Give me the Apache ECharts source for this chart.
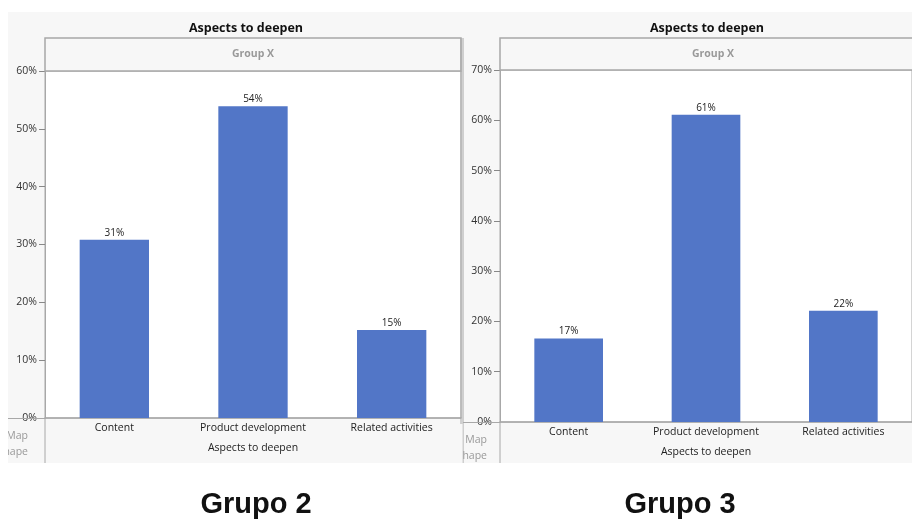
<!DOCTYPE html>
<html>
<head>
<meta charset="utf-8">
<script src="https://cdn.jsdelivr.net/npm/echarts@6/dist/echarts.min.js"></script>
<style>
html, body { margin: 0; padding: 0; background: #fff; }
#chart { width: 912px; height: 521px; }
</style>
</head>
<body>
<div id="chart"></div>
<script>
// data
var categories = ['Content', 'Product development', 'Related activities'];
var grupo2 = [30.8, 53.9, 15.2];
var grupo3 = [16.6, 61.1, 22.1];
var ticks2 = [0, 10, 20, 30, 40, 50, 60];
var ticks3 = [0, 10, 20, 30, 40, 50, 60, 70];
var panelTitles = ['Grupo 2', 'Grupo 3'];

var myChart = echarts.init(document.getElementById('chart'));
var font = 'Open Sans';
var lineColor = '#a8a8a8';
var bg = '#f7f7f7';

function yAxisFor(idx, ticks){
	return {
		type: 'value',
		gridIndex: idx,
		min: ticks[0],
		max: ticks[ticks.length - 1],
		interval: 10,
		axisLine: { show: true, lineStyle: { color: lineColor } },
		axisTick: { show: true, length: 6, lineStyle: { color: '#888' } },
		axisLabel: { formatter: '{value}%', color: '#333', fontSize: 10.5, fontFamily: font, margin: 8 },
		splitLine: { show: false }
	};
}

function xAxisFor(idx){
	return {
		type: 'category',
		gridIndex: idx,
		data: categories,
		name: 'Aspects to deepen',
		nameLocation: 'middle',
		nameGap: 25,
		nameTextStyle: { color: '#222', fontSize: 10.5, fontFamily: font },
		axisLine: { show: true, lineStyle: { color: lineColor, width: 1.5 } },
		axisTick: { show: false },
		axisLabel: { color: '#222', fontSize: 10.5, fontFamily: font, margin: 5, interval: 0 }
	};
}

function seriesFor(idx, data){
	return {
		type: 'bar',
		xAxisIndex: idx,
		yAxisIndex: idx,
		data: data,
		barWidth: '50%',
		itemStyle: { color: '#5276c7' },
		label: {
			show: true,
			position: 'top',
			distance: 2,
			color: '#222',
			fontSize: 10,
			fontFamily: font,
			formatter: function(p){ return Math.round(p.value) + '%'; }
		}
	};
}

var option = {
	animation: false,
	backgroundColor: '#fff',
	title: [
		{ text: 'Aspects to deepen', left: 241, top: 17, textAlign: 'center',
		  textStyle: { fontSize: 12.5, fontWeight: 'bold', color: '#111', fontFamily: font } },
		{ text: 'Aspects to deepen', left: 702, top: 17, textAlign: 'center',
		  textStyle: { fontSize: 12.5, fontWeight: 'bold', color: '#111', fontFamily: font } },
		{ text: panelTitles[0], left: 251, top: 485, textAlign: 'center',
		  textStyle: { fontSize: 29, fontWeight: 'bold', color: '#111', fontFamily: 'Liberation Sans' } },
		{ text: panelTitles[1], left: 675, top: 485, textAlign: 'center',
		  textStyle: { fontSize: 29, fontWeight: 'bold', color: '#111', fontFamily: 'Liberation Sans' } }
	],
	grid: [
		{ left: 45, top: 71, width: 416, height: 347, show: true, backgroundColor: '#fff', borderColor: lineColor, borderWidth: 1 },
		{ left: 500, top: 70, width: 428, height: 352, show: true, backgroundColor: '#fff', borderColor: lineColor, borderWidth: 1 }
	],
	xAxis: [xAxisFor(0), xAxisFor(1)],
	yAxis: [yAxisFor(0, ticks2), yAxisFor(1, ticks3)],
	series: [seriesFor(0, grupo2), seriesFor(1, grupo3)],
	graphic: [
		{ type: 'rect', z: -10, shape: { x: 8, y: 12, width: 904, height: 451 }, style: { fill: bg } },
		// Group X headers
		{ type: 'rect', z: 1, shape: { x: 45, y: 38, width: 416, height: 33 }, style: { fill: bg, stroke: lineColor, lineWidth: 1.5 } },
		{ type: 'text', z: 2, x: 253, y: 54, style: { text: 'Group X', fill: '#999', font: 'bold 10.5px "Open Sans"', align: 'center', verticalAlign: 'middle' } },
		{ type: 'rect', z: 1, shape: { x: 500, y: 38, width: 430, height: 32 }, style: { fill: bg, stroke: lineColor, lineWidth: 1.5 } },
		{ type: 'text', z: 2, x: 713, y: 54, style: { text: 'Group X', fill: '#999', font: 'bold 10.5px "Open Sans"', align: 'center', verticalAlign: 'middle' } },
		// outer frame lines
		{ type: 'line', z: 1, shape: { x1: 45, y1: 418, x2: 45, y2: 463 }, style: { stroke: lineColor, lineWidth: 1 } },
		{ type: 'line', z: 1, shape: { x1: 461, y1: 38, x2: 461, y2: 463 }, style: { stroke: lineColor, lineWidth: 1 } },
		{ type: 'line', z: 1, shape: { x1: 463, y1: 38, x2: 463, y2: 463 }, style: { stroke: lineColor, lineWidth: 1 } },
		{ type: 'line', z: 1, shape: { x1: 500, y1: 422, x2: 500, y2: 463 }, style: { stroke: lineColor, lineWidth: 1 } },
		{ type: 'line', z: 1, shape: { x1: 8, y1: 418.5, x2: 45, y2: 418.5 }, style: { stroke: lineColor, lineWidth: 1 } },
		{ type: 'line', z: 1, shape: { x1: 463, y1: 422.5, x2: 500, y2: 422.5 }, style: { stroke: lineColor, lineWidth: 1 } },
		// clipped "Map Shape" legend labels
		{ type: 'text', z: 2, x: 28, y: 428, style: { text: 'Map\nShape', fill: '#999', font: '10.5px "Open Sans"', align: 'right', lineHeight: 16 } },
		{ type: 'rect', z: 3, shape: { x: 0, y: 420, width: 8, height: 45 }, style: { fill: '#fff' } },
		{ type: 'text', z: 2, x: 487, y: 432, style: { text: 'Map\nShape', fill: '#999', font: '10.5px "Open Sans"', align: 'right', lineHeight: 16 } },
		{ type: 'rect', z: 3, shape: { x: 446, y: 424, width: 16.5, height: 39 }, style: { fill: bg } }
	]
};
myChart.setOption(option);
</script>
</body>
</html>
